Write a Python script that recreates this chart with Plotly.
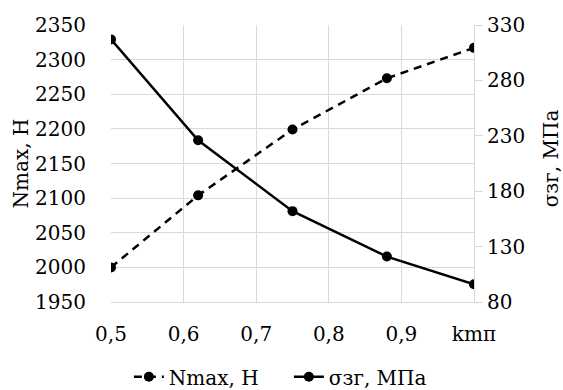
import plotly.graph_objects as go

k_mp = [0.5, 0.62, 0.75, 0.88, 1.0]
n_max = [2000, 2104, 2199, 2273, 2317]
sigma_zg = [317, 226, 162, 121, 96]

x_tickvals = [0.5, 0.6, 0.7, 0.8, 0.9, 1.0]
x_ticktext = ["0,5", "0,6", "0,7", "0,8", "0,9", "kmп"]
y_left_ticks = [1950, 2000, 2050, 2100, 2150, 2200, 2250, 2300, 2350]
y_right_ticks = [80, 130, 180, 230, 280, 330]

FONT = "DejaVu Serif"
FS = 20
GRID = "#d9d9d9"

fig = go.Figure()
fig.add_trace(go.Scatter(
    x=k_mp, y=n_max, name="Nmax, H", mode="lines+markers",
    line=dict(color="black", width=2.5, dash="8px,6px"),
    marker=dict(color="black", size=10), yaxis="y"))
fig.add_trace(go.Scatter(
    x=k_mp, y=sigma_zg, name="σзг, МПа", mode="lines+markers",
    line=dict(color="black", width=2.5),
    marker=dict(color="black", size=10), yaxis="y2"))

fig.update_layout(
    width=563, height=390,
    margin=dict(l=111, r=89, t=25, b=88, autoexpand=False),
    paper_bgcolor="white", plot_bgcolor="white",
    font=dict(family=FONT, size=FS, color="black"),
    showlegend=True,
    legend=dict(orientation="h", x=0.49, xanchor="center", y=-0.27, yanchor="middle",
                font=dict(family=FONT, size=FS), itemwidth=30, tracegroupgap=0,
                entrywidth=115, entrywidthmode="pixels",
                bgcolor="rgba(0,0,0,0)"),
    xaxis=dict(range=[0.5, 1.0], tickvals=x_tickvals, ticktext=x_ticktext,
               showgrid=True, gridcolor=GRID, gridwidth=1,
               showline=True, linecolor=GRID, linewidth=1,
               ticks="outside", ticklen=14, tickcolor="rgba(0,0,0,0)",
               zeroline=False, automargin=False),
    yaxis=dict(range=[1950, 2350], tickvals=y_left_ticks,
               showgrid=True, gridcolor=GRID, gridwidth=1,
               ticks="outside", ticklen=20, tickcolor="rgba(0,0,0,0)",
               zeroline=False, showline=False, automargin=False),
    yaxis2=dict(range=[80, 330], tickvals=y_right_ticks, overlaying="y", side="right",
                showgrid=False, zeroline=False, showline=True, linecolor=GRID,
                ticks="outside", ticklen=8, tickcolor=GRID, automargin=False),
    annotations=[
        dict(text="Nmax, H", xref="paper", yref="paper", x=-0.248, y=0.5,
             xanchor="center", yanchor="middle", textangle=-90, showarrow=False,
             font=dict(family=FONT, size=FS, color="black")),
        dict(text="σзг, МПа", xref="paper", yref="paper", x=1.213, y=0.52,
             xanchor="center", yanchor="middle", textangle=-90, showarrow=False,
             font=dict(family=FONT, size=FS, color="black")),
    ],
)

fig.write_html("out.html", config={"displayModeBar": False},
               post_script="document.body.style.margin='0';")
